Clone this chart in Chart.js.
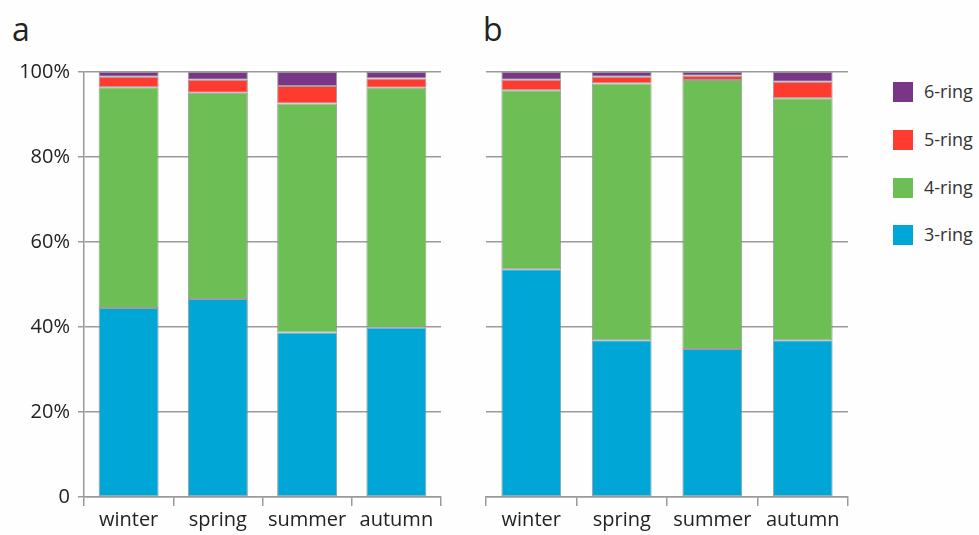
<!DOCTYPE html>
<html>
<head>
<meta charset="utf-8">
<title>Ring-size composition by season</title>
<script src="https://cdn.jsdelivr.net/npm/chart.js@4/dist/chart.umd.min.js"></script>
<style>
  html, body { margin: 0; padding: 0; background: #fefefe; }
  body { width: 979px; height: 535px; position: relative; overflow: hidden; font-family: "Open Sans", "Noto Sans", sans-serif; color: #222; }
  .panel { position: absolute; top: 0; height: 535px; }
  .tag { position: absolute; top: 9px; font-size: 32px; line-height: 40px; color: #222; }
  #legend { position: absolute; left: 893px; top: 0; }
  .item { position: absolute; left: 0; width: 90px; height: 20px; font-size: 18px; line-height: 20px; color: #333; white-space: nowrap; }
  .swatch { position: absolute; left: 0; top: 0; width: 20px; height: 20px; }
  .item span { position: absolute; left: 31px; top: -1px; }
</style>
</head>
<body>
<div class="tag" style="left:12px">a</div>
<div class="tag" style="left:483px">b</div>
<div class="panel" style="left:0;width:460px"><canvas id="chartA"></canvas></div>
<div class="panel" style="left:460px;width:420px"><canvas id="chartB"></canvas></div>
<div id="legend"></div>
<script>
// Seasons on the x axis
const seasons = ['winter', 'spring', 'summer', 'autumn'];

// Share of each ring class (%), panel a
const aRing3 = [44.5, 46.6, 38.7, 39.9];
const aRing4 = [51.9, 48.5, 53.9, 56.4];
const aRing5 = [2.5, 3.1, 4.1, 2.2];
const aRing6 = [1.1, 1.8, 3.3, 1.5];

// Share of each ring class (%), panel b
const bRing3 = [53.6, 36.9, 34.8, 36.9];
const bRing4 = [42.1, 60.4, 63.3, 56.9];
const bRing5 = [2.5, 1.6, 1.0, 3.9];
const bRing6 = [1.8, 1.1, 0.9, 2.3];

// Series names and fills, bottom of the stack first
const seriesNames = ['3-ring', '4-ring', '5-ring', '6-ring'];
const seriesColors = ['#00a6d6', '#6cbe55', '#ff3a2e', '#7a3686'];

// Value-axis ticks
const yTicks = [0, 20, 40, 60, 80, 100];
const yTickLabels = ['0', '20%', '40%', '60%', '80%', '100%'];

const AXIS_GREY = '#9a9a9a';
const FONT = { family: '"Open Sans", "Noto Sans", sans-serif', size: 20 };

function makeDatasets(series, barPct) {
  return series.map((values, i) => ({
    label: seriesNames[i],
    data: values,
    backgroundColor: seriesColors[i],
    borderColor: 'rgba(140,140,140,0.85)',
    borderWidth: 1,
    borderSkipped: false,
    categoryPercentage: 1.0,
    barPercentage: barPct
  }));
}

function makeChart(canvasId, series, opts) {
  return new Chart(document.getElementById(canvasId), {
    type: 'bar',
    data: { labels: seasons, datasets: makeDatasets(series, opts.barPct) },
    options: {
      responsive: true,
      maintainAspectRatio: false,
      animation: false,
      layout: { padding: { left: 0, right: opts.rightPad, top: 72, bottom: 0 } },
      plugins: { legend: { display: false }, tooltip: { enabled: false } },
      scales: {
        x: {
          stacked: true,
          offset: true,
          grid: { display: true, drawOnChartArea: false, drawTicks: true, tickLength: 9, color: AXIS_GREY, lineWidth: 1.5, offset: true },
          border: { display: true, color: AXIS_GREY, width: 1.5 },
          ticks: { color: '#222', font: FONT, padding: 2, maxRotation: 0, autoSkip: false },
          afterFit: s => { s.height = 38; }
        },
        y: {
          stacked: true,
          min: 0,
          max: 100,
          afterBuildTicks: s => { s.ticks = yTicks.map(v => ({ value: v })); },
          grid: { color: AXIS_GREY, lineWidth: 1.5, drawTicks: opts.showYLabels, tickLength: 6 },
          border: { display: opts.showYLabels, color: AXIS_GREY, width: 1.5 },
          ticks: {
            display: opts.showYLabels,
            color: '#222',
            font: FONT,
            padding: 8,
            callback: v => yTickLabels[yTicks.indexOf(v)]
          },
          afterFit: s => { s.width = opts.yWidth; }
        }
      }
    }
  });
}

makeChart('chartA', [aRing3, aRing4, aRing5, aRing6], { rightPad: 19, yWidth: 84, showYLabels: true, barPct: 0.672 });
makeChart('chartB', [bRing3, bRing4, bRing5, bRing6], { rightPad: 32, yWidth: 26, showYLabels: false, barPct: 0.66 });

// Shared legend, top entry is the largest ring class
const legend = document.getElementById('legend');
const rowTops = [82, 130, 178, 225];
seriesNames.slice().reverse().forEach((name, i) => {
  const color = seriesColors[seriesNames.length - 1 - i];
  const item = document.createElement('div');
  item.className = 'item';
  item.style.top = rowTops[i] + 'px';
  item.innerHTML = '<div class="swatch" style="background:' + color + '"></div><span>' + name + '</span>';
  legend.appendChild(item);
});
</script>
</body>
</html>
